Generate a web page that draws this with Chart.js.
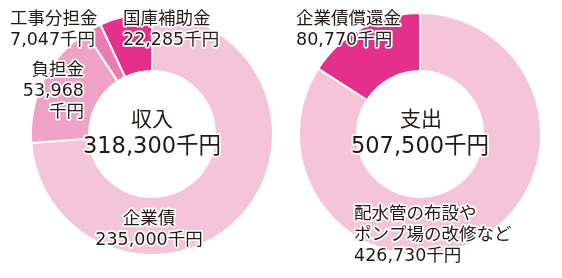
<!DOCTYPE html>
<html>
<head>
<meta charset="utf-8">
<script src="https://cdn.jsdelivr.net/npm/chart.js@4"></script>
<style>
  html, body { margin: 0; padding: 0; background: #fff; }
  .wrap { position: absolute; top: 0; width: 281px; height: 278px; }
</style>
</head>
<body>
<div class="wrap" style="left:0"><canvas id="incomeChart"></canvas></div>
<div class="wrap" style="left:281px"><canvas id="spendChart"></canvas></div>
<script>
// 収入 (千円), clockwise from top
const incomeLabels = ["企業債", "負担金", "工事分担金", "国庫補助金"]
const incomeValues = [235000, 53968, 7047, 22285]
const incomeColors = ["#F4C4D9", "#F0A2C6", "#E97DB1", "#E4308A"]

// 支出 (千円)
const spendLabels = ["配水管の布設やポンプ場の改修など", "企業債償還金"]
const spendValues = [426730, 80770]
const spendColors = ["#F4C4D9", "#E4308A"]

const FONT = '"DejaVu Sans", "Noto Sans CJK JP", sans-serif'

// text blocks: [x, y, align, size, lines]
const incomeText = [
  [10, 19, "left", 17.5, ["工事分担金", "7,047千円"]],
  [123, 19, "left", 17.5, ["国庫補助金", "22,285千円"]],
  [84, 70, "right", 17.5, ["負担金", "53,968", "千円"]],
  [152, 121, "center", 21, ["収入"]],
  [152, 147, "center", 22.5, ["318,300千円"]],
  [149, 219, "center", 17.5, ["企業債", "235,000千円"]]
]
const spendText = [
  [15, 19, "left", 17.5, ["企業債償還金", "80,770千円"]],
  [140, 121, "center", 21, ["支出"]],
  [139, 147, "center", 22.5, ["507,500千円"]],
  [73, 214, "left", 17.5, ["配水管の布設や", "ポンプ場の改修など", "426,730千円"]]
]

function textPlugin(blocks) {
  return {
    id: "labels",
    afterDraw(chart) {
      const ctx = chart.ctx
      ctx.save()
      ctx.textBaseline = "middle"
      ctx.lineJoin = "round"
      blocks.forEach(([x, y, align, size, lines]) => {
        ctx.font = size + "px " + FONT
        ctx.textAlign = align
        lines.forEach((t, i) => {
          const yy = y + i * 21
          ctx.strokeStyle = "#fff"
          ctx.lineWidth = 3.5
          ctx.strokeText(t, x, yy)
          ctx.fillStyle = "#231815"
          ctx.fillText(t, x, yy)
        })
      })
      ctx.restore()
    }
  }
}

function makeDonut(id, labels, values, colors, pad, blocks) {
  new Chart(id, {
    type: "doughnut",
    data: {
      labels: labels,
      datasets: [{
        data: values,
        backgroundColor: colors,
        borderColor: "#fff",
        borderWidth: 2
      }]
    },
    options: {
      responsive: true,
      maintainAspectRatio: false,
      animation: false,
      cutout: "52%",
      layout: { padding: pad },
      plugins: { legend: { display: false }, tooltip: { enabled: false } }
    },
    plugins: [textPlugin(blocks)]
  })
}

makeDonut("incomeChart", incomeLabels, incomeValues, incomeColors,
  { left: 30, right: 7, top: 12, bottom: 22 }, incomeText)
makeDonut("spendChart", spendLabels, spendValues, spendColors,
  { left: 17, right: 20, top: 12, bottom: 22 }, spendText)
</script>
</body>
</html>
